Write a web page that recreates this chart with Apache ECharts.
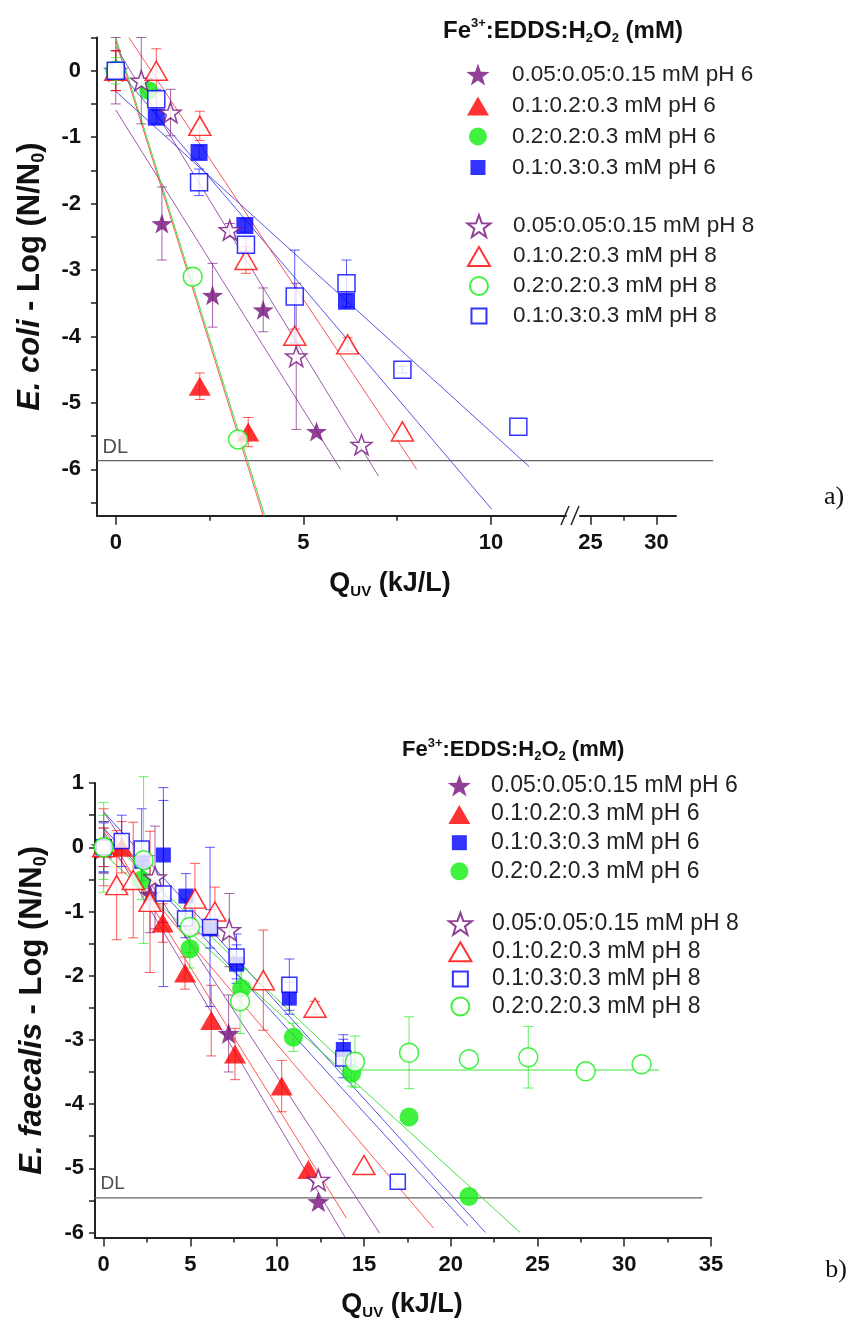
<!DOCTYPE html>
<html>
<head>
<meta charset="utf-8">
<script src="https://cdn.jsdelivr.net/npm/echarts@6/dist/echarts.min.js"></script>
<style>
html,body{margin:0;padding:0;background:#fff;}
#chartA{position:absolute;left:0;top:0;width:848px;height:660px;}
#chartB{position:absolute;left:0;top:660px;width:848px;height:663px;}
</style>
</head>
<body>
<div id="chartA"></div>
<div id="chartB"></div>
<script>
var FONT = 'Liberation Sans, Arial, Helvetica, sans-serif';

// ---------- a) E. coli : points are [Quv, log reduction, error] ----------
var aNames6 = ['0.05:0.05:0.15 mM pH 6', '0.1:0.2:0.3 mM pH 6', '0.2:0.2:0.3 mM pH 6', '0.1:0.3:0.3 mM pH 6'];
var aNames8 = ['0.05:0.05:0.15 mM pH 8', '0.1:0.2:0.3 mM pH 8', '0.2:0.2:0.3 mM pH 8', '0.1:0.3:0.3 mM pH 8'];
var aStar6 = [[0, 0, 0.3], [1.23, -2.3, 0.55], [2.58, -3.38, 0.48], [3.93, -3.6, 0.33], [5.35, -5.43, 0]];
var aTri6 = [[0, 0, 0.3], [2.24, -4.75, 0.2], [3.53, -5.44, 0.22]];
var aCir6 = [[0, 0, 0.1], [0.88, -0.3, 0.1]];
var aSq6 = [[0, 0, 0.1], [1.08, -0.7, 0.1], [2.22, -1.23, 0.1], [3.44, -2.33, 0.1], [6.15, -3.47, 0.1]];
var aStar8 = [[0, 0, 0.5], [0.68, -0.15, 0.65], [1.46, -0.63, 0.35], [3.04, -2.4, 0.1], [4.81, -4.3, 1.1], [6.55, -5.63, 0]];
var aTri8 = [[0, 0, 0.3], [1.08, 0, 0.33], [2.24, -0.83, 0.22], [3.47, -2.85, 0.2], [4.77, -3.99, 0.1], [6.18, -4.12, 0.1], [7.64, -5.43, 0]];
var aCir8 = [[0, 0, 0.2], [2.05, -3.1, 0.13], [3.26, -5.55, 0.1]];
var aSq8 = [[0, 0, 0.1], [1.08, -0.43, 0.15], [2.22, -1.68, 0.2], [3.47, -2.62, 0.1], [4.77, -3.4, 0.7], [6.15, -3.2, 0.35], [7.64, -4.5, 0.05], [10.73, -5.36, 0]];
// linear fits (end points) in the same order as the series
var aFits = [
  [[0, -0.59], [5.99, -6.0]],
  [[0, 0.45], [3.93, -6.7]],
  [[0, 0.5], [3.97, -6.7]],
  [[0, 0.05], [10.02, -6.6]],
  [[0, 0.36], [7.0, -6.1]],
  [[0.35, 0.5], [8.02, -6.0]],
  null,
  [[0, -0.31], [11.02, -5.96]]
];
var aDL = -5.87;
var aDLEnd = 34.3;
var aXTicks = [0, 5, 10], aXMinor = [2.5, 7.5];
var aXTicksR = [25, 30], aXMinorR = [27.5];
var aYLabels = [-6, -5, -4, -3, -2, -1, 0];
var aYTicks = [-6.5, -6, -5.5, -5, -4.5, -4, -3.5, -3, -2.5, -2, -1.5, -1, -0.5, 0, 0.5];

// ---------- b) E. faecalis ----------
var bNames6 = ['0.05:0.05:0.15 mM pH 6', '0.1:0.2:0.3 mM pH 6', '0.1:0.3:0.3 mM pH 6', '0.2:0.2:0.3 mM pH 6'];
var bNames8 = ['0.05:0.05:0.15 mM pH 8', '0.1:0.2:0.3 mM pH 8', '0.1:0.3:0.3 mM pH 8', '0.2:0.2:0.3 mM pH 8'];
var bStar6 = [[0, 0, 0.3], [2.67, -0.73, 0.6], [7.2, -2.9, 0.6], [12.37, -5.52, 0]];
var bTri6 = [[0, 0, 0.3], [1.04, 0, 0.4], [3.4, -1.18, 0.3], [4.69, -1.96, 0.25], [6.2, -2.7, 0.55], [7.57, -3.22, 0.4], [10.26, -3.72, 0.4], [11.8, -5.02, 0]];
var bSq6 = [[0, 0, 0.4], [2.19, -0.22, 0.3], [3.44, -0.12, 1.05], [4.74, -0.76, 0.35], [6.13, -1.27, 0.3], [7.66, -1.82, 0.3], [10.7, -2.35, 0.25], [13.81, -3.15, 0.23]];
var bCir6 = [[0, 0, 0.5], [2.19, -0.51, 0.3], [4.97, -1.58, 0.3], [7.95, -2.2, 0.3], [10.93, -2.96, 0.22], [14.29, -3.52, 0.2], [17.6, -4.2, 0], [21.05, -5.44, 0]];
var bStar8 = [[0, 0, 0.4], [2.96, -0.47, 0.8], [7.24, -1.29, 0.57], [12.37, -5.18, 0]];
var bTri8 = [[0, 0, 0.6], [0.75, -0.59, 0.85], [1.7, -0.51, 0.9], [2.67, -0.85, 1.1], [5.26, -0.8, 0.55], [6.41, -1.0, 0.38], [9.2, -2.07, 0.78], [12.18, -2.5, 0.1], [15.0, -4.95, 0]];
var bSq8 = [[0, 0, 0.38], [1.04, 0.1, 0.4], [2.19, -0.02, 0.62], [3.44, -0.72, 1.45], [4.69, -1.11, 0.3], [6.13, -1.24, 1.24], [7.66, -1.7, 0.35], [10.7, -2.14, 0.4], [13.81, -3.29, 0.3], [16.95, -5.21, 0]];
var bCir8 = [[0, 0, 0.7], [2.3, -0.2, 1.3], [4.97, -1.24, 0.4], [7.86, -2.4, 0.5], [14.48, -3.34, 0.4], [17.6, -3.2, 0.56], [21.05, -3.3, 0], [24.47, -3.27, 0.48], [27.78, -3.49, 0], [31.0, -3.38, 0]];
var bFits = [
  [[0, 0.25], [13.9, -6.07]],
  [[0, 0.3], [14.0, -5.78]],
  [[0, 0.55], [22.0, -6.0]],
  [[0, -0.1], [24.0, -6.0]],
  [[0, 0.55], [15.9, -6.01]],
  [[0, 0.1], [19.0, -5.93]],
  [[0, 0.3], [21.0, -5.9]],
  [[0, 0.2], [14.3, -3.47], [32, -3.47]]
];
var bDL = -5.46;
var bXTicks = [0, 5, 10, 15, 20, 25, 30, 35];
var bXMinor = [2.5, 7.5, 12.5, 17.5, 22.5, 27.5, 32.5];
var bYLabels = [-6, -5, -4, -3, -2, -1, 0, 1];
var bYTicks = [-6, -5.5, -5, -4.5, -4, -3.5, -3, -2.5, -2, -1.5, -1, -0.5, 0, 0.5, 1];

// ---------- styles ----------
var PURPLE = '#74127a', RED = '#ff0000', GREEN = '#10ee10', BLUE = '#0000ff';
var LINECOL = {};
LINECOL[PURPLE] = '#8a3c9e'; LINECOL[RED] = '#ff3a3a'; LINECOL[GREEN] = '#22dd22'; LINECOL[BLUE] = '#3838e0';
var STAR = 'path://M0,-10L2.35,-3.24L9.51,-3.09L3.8,1.24L5.88,8.09L0,4L-5.88,8.09L-3.8,1.24L-9.51,-3.09L-2.35,-3.24Z';
var SYMBOL = { star: STAR, tri: 'triangle', cir: 'circle', sq: 'rect' };
var ICON = {
  star: STAR,
  tri: 'path://M0,0M22,22M11,2L22,21L0,21Z',
  cir: 'path://M0,0M22,22M20,11A9,9,0,1,1,2,11A9,9,0,1,1,20,11Z',
  sq: 'path://M0,0M22,22M3.5,3.5L18.5,3.5L18.5,18.5L3.5,18.5Z'
};

function errRender(color) {
  return function (params, api) {
    var x = api.value(0), y = api.value(1), e = api.value(2);
    var hi = api.coord([x, y + e]), lo = api.coord([x, y - e]);
    var st = { stroke: color, lineWidth: 1, opacity: 0.65 };
    return {
      type: 'group', children: [
        { type: 'line', shape: { x1: hi[0], y1: hi[1], x2: lo[0], y2: lo[1] }, style: st },
        { type: 'line', shape: { x1: hi[0] - 5, y1: hi[1], x2: hi[0] + 5, y2: hi[1] }, style: st },
        { type: 'line', shape: { x1: lo[0] - 5, y1: lo[1], x2: lo[0] + 5, y2: lo[1] }, style: st }
      ]
    };
  };
}

function buildSeries(name, pts, fit, kind, color, filled, sizes) {
  var out = [];
  if (fit) {
    out.push({
      type: 'line', data: fit, symbol: 'none', silent: true, z: 2,
      lineStyle: { color: LINECOL[color], width: 1, opacity: 0.85 }
    });
  }
  out.push({
    type: 'custom', silent: true, z: 3, encode: { x: 0, y: 1 },
    data: pts.filter(function (p) { return p[2] > 0; }),
    renderItem: errRender(color)
  });
  out.push({
    type: 'scatter', name: name, z: 4,
    data: pts.map(function (p) { return [p[0], p[1]]; }),
    symbol: SYMBOL[kind], symbolSize: sizes[kind], symbolKeepAspect: true,
    itemStyle: filled ? { color: color } : { color: '#fff', borderColor: color, borderWidth: 1.5 }
  });
  return out;
}

function legendData(names, kinds) {
  return names.map(function (n, i) { return { name: n, icon: ICON[kinds[i]] }; });
}

function axisLabelStyle(margin, values) {
  return { customValues: values, margin: margin, fontFamily: FONT, fontWeight: 'bold', fontSize: 22, color: '#111' };
}
function tickStyle(len, values) {
  return { show: true, customValues: values, length: len, lineStyle: { color: '#222', width: 1.5 } };
}
var AXLINE = { show: true, onZero: false, lineStyle: { color: '#222', width: 2 } };
var NOLINE = { show: false, onZero: false };

var nameRich = {
  i: { fontFamily: FONT, fontWeight: 'bold', fontStyle: 'italic', fontSize: 31, lineHeight: 36 },
  n: { fontFamily: FONT, fontWeight: 'bold', fontSize: 31, lineHeight: 36 },
  s: { fontFamily: FONT, fontWeight: 'bold', fontSize: 18, lineHeight: 8, verticalAlign: 'bottom' }
};
var quvRich = {
  q: { fontFamily: FONT, fontWeight: 'bold', fontSize: 27, lineHeight: 30, fill: '#111' },
  s: { fontFamily: FONT, fontWeight: 'bold', fontSize: 15, lineHeight: 8, verticalAlign: 'bottom', fill: '#111' }
};
function feRich(size) {
  return {
    t: { fontFamily: FONT, fontWeight: 'bold', fontSize: size, lineHeight: size + 4, fill: '#111' },
    p: { fontFamily: FONT, fontWeight: 'bold', fontSize: 13, lineHeight: 12, verticalAlign: 'top', fill: '#111' },
    b: { fontFamily: FONT, fontWeight: 'bold', fontSize: 13, lineHeight: 6, verticalAlign: 'bottom', fill: '#111' }
  };
}
var FE_TEXT = '{t|Fe}{p|3+}{t|:EDDS:H}{b|2}{t|O}{b|2}{t| (mM)}';
var QUV_TEXT = '{q|Q}{s|UV}{q| (kJ/L)}';

function dlSeries(dl, x0, xIdx, yIdx) {
  return {
    type: 'scatter', xAxisIndex: xIdx, yAxisIndex: yIdx, silent: true, z: 5,
    data: [[x0, dl]], symbolSize: 1, itemStyle: { color: 'rgba(0,0,0,0)' },
    label: { show: true, formatter: 'DL', position: 'right', distance: 5, offset: [0, -13],
      fontFamily: FONT, fontSize: 20, color: '#222' }
  };
}

// ================= chart a =================
var chartA = echarts.init(document.getElementById('chartA'));
var sizesA = { star: 21, tri: [22, 19], cir: 19, sq: 17 };
var aKinds = ['star', 'tri', 'cir', 'sq'];
var aCols = [PURPLE, RED, GREEN, BLUE];
var aData6 = [aStar6, aTri6, aCir6, aSq6], aData8 = [aStar8, aTri8, aCir8, aSq8];
var seriesA = [];
aData6.forEach(function (d, i) { seriesA = seriesA.concat(buildSeries(aNames6[i], d, aFits[i], aKinds[i], aCols[i], true, sizesA)); });
aData8.forEach(function (d, i) { seriesA = seriesA.concat(buildSeries(aNames8[i], d, aFits[4 + i], aKinds[i], aCols[i], false, sizesA)); });
// detection limit: left part in the main grid, rest in a wide hidden grid past the break
seriesA.push({
  type: 'line', data: [[-0.5, aDL], [12, aDL]], symbol: 'none', silent: true, z: 1,
  lineStyle: { color: '#666', width: 1.2 }
});
seriesA.push({
  type: 'line', xAxisIndex: 4, yAxisIndex: 2, data: [[23.14, aDL], [aDLEnd, aDL]], symbol: 'none', silent: true, z: 1,
  lineStyle: { color: '#666', width: 1.2 }
});
seriesA.push(dlSeries(aDL, -0.5, 0, 0));

var legendTextA = { fontFamily: FONT, fontSize: 22.5, color: '#222' };
chartA.setOption({
  animation: false,
  grid: [
    { left: 97, top: 37.5, width: 469, height: 478.3 },
    { left: 580, top: 37.5, width: 96, height: 478.3 },
    { left: 566, top: 37.5, width: 149, height: 478.3 }
  ],
  xAxis: [
    { gridIndex: 0, type: 'value', position: 'bottom', min: -0.5, max: 12, axisLine: AXLINE,
      axisTick: tickStyle(9, aXTicks), axisLabel: axisLabelStyle(16, aXTicks), splitLine: { show: false } },
    { gridIndex: 0, type: 'value', position: 'bottom', min: -0.5, max: 12, axisLine: NOLINE,
      axisTick: tickStyle(5, aXMinor), axisLabel: { show: false }, splitLine: { show: false } },
    { gridIndex: 1, type: 'value', position: 'bottom', min: 24.2, max: 31.47, axisLine: AXLINE,
      axisTick: tickStyle(9, aXTicksR), axisLabel: axisLabelStyle(16, aXTicksR), splitLine: { show: false } },
    { gridIndex: 1, type: 'value', position: 'bottom', min: 24.2, max: 31.47, axisLine: NOLINE,
      axisTick: tickStyle(5, aXMinorR), axisLabel: { show: false }, splitLine: { show: false } },
    { gridIndex: 2, type: 'value', min: 23.14, max: 34.43, show: false }
  ],
  yAxis: [
    { gridIndex: 0, type: 'value', min: -6.7, max: 0.5, axisLine: AXLINE,
      axisTick: tickStyle(6, aYTicks), axisLabel: axisLabelStyle(16, aYLabels), splitLine: { show: false },
      name: '{i|E. coli}{n| - Log (N/N}{s|0}{n|)}', nameLocation: 'middle', nameGap: 49,
      nameTextStyle: { fontFamily: FONT, fontWeight: 'bold', fontSize: 31, color: '#111', rich: nameRich } },
    { gridIndex: 1, type: 'value', min: -6.7, max: 0.5, show: false },
    { gridIndex: 2, type: 'value', min: -6.7, max: 0.5, show: false }
  ],
  legend: [
    { data: legendData(aNames6, aKinds), orient: 'vertical', left: 466.4, top: 63, padding: 0,
      itemWidth: 58, itemHeight: 22, itemGap: 8, selectedMode: false, textStyle: legendTextA },
    { data: legendData(aNames8, aKinds), orient: 'vertical', left: 466.4, top: 214, padding: 0,
      itemWidth: 58, itemHeight: 22, itemGap: 6, selectedMode: false, textStyle: legendTextA }
  ],
  graphic: [
    { type: 'line', shape: { x1: 561, y1: 525, x2: 569, y2: 506 }, style: { stroke: '#222', lineWidth: 1.5 } },
    { type: 'line', shape: { x1: 571, y1: 525, x2: 579, y2: 506 }, style: { stroke: '#222', lineWidth: 1.5 } },
    { type: 'text', x: 390, y: 584, style: { text: QUV_TEXT, rich: quvRich, align: 'center', verticalAlign: 'middle' } },
    { type: 'text', x: 834, y: 497, style: { text: 'a)', font: '26px "Liberation Serif", "Times New Roman", serif', fill: '#111', align: 'center', verticalAlign: 'middle' } },
    { type: 'text', x: 443, y: 31, style: { text: FE_TEXT, rich: feRich(24), align: 'left', verticalAlign: 'middle' } }
  ],
  series: seriesA
});

// ================= chart b =================
var chartB = echarts.init(document.getElementById('chartB'));
var sizesB = { star: 22, tri: [22, 19], cir: 19, sq: 15 };
var bKinds = ['star', 'tri', 'sq', 'cir'];
var bCols = [PURPLE, RED, BLUE, GREEN];
var bData6 = [bStar6, bTri6, bSq6, bCir6], bData8 = [bStar8, bTri8, bSq8, bCir8];
var seriesB = [];
bData6.forEach(function (d, i) { seriesB = seriesB.concat(buildSeries(bNames6[i], d, bFits[i], bKinds[i], bCols[i], true, sizesB)); });
bData8.forEach(function (d, i) { seriesB = seriesB.concat(buildSeries(bNames8[i], d, bFits[4 + i], bKinds[i], bCols[i], false, sizesB)); });
seriesB.push({
  type: 'line', data: [[-0.5, bDL], [34.5, bDL]], symbol: 'none', silent: true, z: 1,
  lineStyle: { color: '#666', width: 1.2 }
});
var dlB = dlSeries(bDL, -0.5, 0, 0);
dlB.label.offset = [0, -14];
dlB.label.fontSize = 19;
seriesB.push(dlB);

var legendTextB = { fontFamily: FONT, fontSize: 23, color: '#222' };
chartB.setOption({
  animation: false,
  grid: { left: 95, top: 123.1, width: 616, height: 454.5 },
  xAxis: [
    { type: 'value', position: 'bottom', min: -0.5, max: 35, axisLine: AXLINE,
      axisTick: tickStyle(9, bXTicks), axisLabel: axisLabelStyle(16, bXTicks), splitLine: { show: false } },
    { type: 'value', position: 'bottom', min: -0.5, max: 35, axisLine: NOLINE,
      axisTick: tickStyle(5, bXMinor), axisLabel: { show: false }, splitLine: { show: false } }
  ],
  yAxis: {
    type: 'value', min: -6.08, max: 1, axisLine: AXLINE,
    axisTick: tickStyle(6, bYTicks), axisLabel: axisLabelStyle(11, bYLabels), splitLine: { show: false },
    name: '{i|E. faecalis}{n| - Log (N/N}{s|0}{n|)}', nameLocation: 'middle', nameGap: 45,
    nameTextStyle: { fontFamily: FONT, fontWeight: 'bold', fontSize: 31, color: '#111', rich: nameRich }
  },
  legend: [
    { data: legendData(bNames6, bKinds), orient: 'vertical', left: 447.8, top: 114, padding: 0,
      itemWidth: 53.4, itemHeight: 22, itemGap: 5.6, selectedMode: false, textStyle: legendTextB },
    { data: legendData(bNames8, bKinds), orient: 'vertical', left: 447.8, top: 251.7, padding: 0,
      itemWidth: 53.4, itemHeight: 22, itemGap: 3.6, selectedMode: false, textStyle: legendTextB }
  ],
  graphic: [
    { type: 'text', x: 402, y: 645, style: { text: QUV_TEXT, rich: quvRich, align: 'center', verticalAlign: 'middle' } },
    { type: 'text', x: 836, y: 610, style: { text: 'b)', font: '26px "Liberation Serif", "Times New Roman", serif', fill: '#111', align: 'center', verticalAlign: 'middle' } },
    { type: 'text', x: 402, y: 90, style: { text: FE_TEXT, rich: feRich(22), align: 'left', verticalAlign: 'middle' } }
  ],
  series: seriesB
});

window.addEventListener('resize', function () {
  chartA.resize();
  chartB.resize();
});
</script>
</body>
</html>
